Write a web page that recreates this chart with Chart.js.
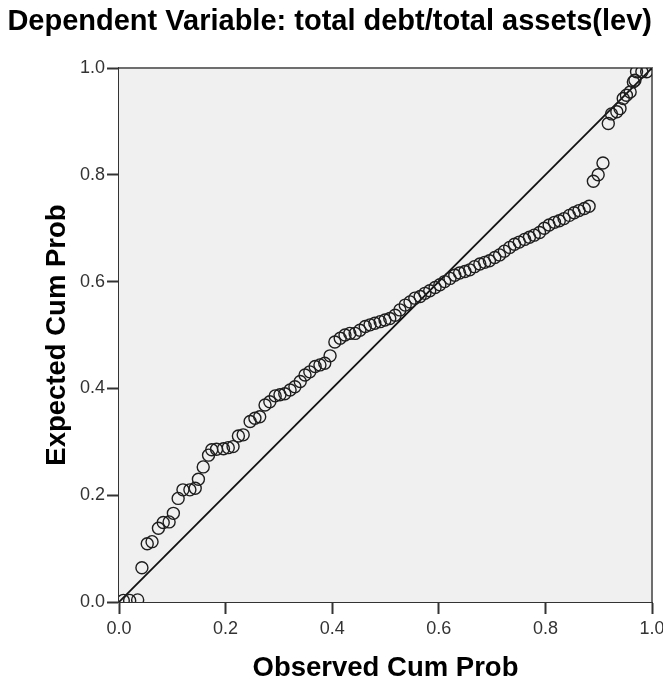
<!DOCTYPE html>
<html>
<head>
<meta charset="utf-8">
<script src="https://cdn.jsdelivr.net/npm/chart.js@4"></script>
<style>
  html, body { margin: 0; padding: 0; background: #ffffff; }
  #wrap { width: 663px; height: 683px; }
</style>
</head>
<body>
<div id="wrap"><canvas id="ppChart" width="663" height="683"></canvas></div>
<script>
const titleText = "Dependent Variable: total debt/total assets(lev)";
const xAxisLabel = "Observed Cum Prob";
const yAxisLabel = "Expected Cum Prob";

// observed cumulative probability (x)
const observedCum = [
  0.008, 0.020, 0.035, 0.043, 0.053, 0.062, 0.074, 0.083, 0.094, 0.102,
  0.111, 0.120, 0.133, 0.143, 0.149, 0.158, 0.168, 0.174, 0.183, 0.196,
  0.205, 0.214, 0.224, 0.233, 0.246, 0.255, 0.264, 0.274, 0.283, 0.293,
  0.302, 0.311, 0.321, 0.330, 0.340, 0.349, 0.358, 0.368, 0.377, 0.386,
  0.396, 0.405, 0.415, 0.424, 0.433, 0.443, 0.452, 0.462, 0.471, 0.480,
  0.490, 0.499, 0.508, 0.518, 0.527, 0.537, 0.546, 0.555, 0.565, 0.574,
  0.583, 0.593, 0.602, 0.611, 0.621, 0.630, 0.639, 0.649, 0.658, 0.667,
  0.677, 0.686, 0.695, 0.705, 0.714, 0.723, 0.733, 0.742, 0.751, 0.761,
  0.770, 0.779, 0.789, 0.798, 0.807, 0.817, 0.826, 0.835, 0.845, 0.854,
  0.863, 0.873, 0.882, 0.890, 0.899, 0.908, 0.918, 0.924, 0.934, 0.940,
  0.946, 0.952, 0.959, 0.965, 0.968, 0.971, 0.981, 0.990
];

// expected cumulative probability (y)
const expectedCum = [
  0.003, 0.003, 0.004, 0.064, 0.109, 0.113, 0.138, 0.149, 0.150, 0.166,
  0.194, 0.210, 0.210, 0.213, 0.230, 0.253, 0.275, 0.285, 0.286, 0.287,
  0.289, 0.291, 0.311, 0.313, 0.338, 0.344, 0.347, 0.369, 0.375, 0.386,
  0.388, 0.390, 0.397, 0.403, 0.413, 0.425, 0.431, 0.441, 0.444, 0.447,
  0.461, 0.487, 0.494, 0.500, 0.503, 0.503, 0.509, 0.516, 0.519, 0.522,
  0.525, 0.528, 0.531, 0.537, 0.547, 0.556, 0.562, 0.569, 0.572, 0.578,
  0.583, 0.589, 0.594, 0.600, 0.606, 0.612, 0.616, 0.619, 0.622, 0.628,
  0.633, 0.636, 0.639, 0.645, 0.650, 0.657, 0.664, 0.670, 0.674, 0.679,
  0.683, 0.687, 0.692, 0.700, 0.706, 0.711, 0.714, 0.718, 0.724, 0.729,
  0.733, 0.737, 0.741, 0.788, 0.800, 0.822, 0.896, 0.914, 0.918, 0.924,
  0.943, 0.949, 0.955, 0.974, 0.977, 0.993, 0.993, 0.993
];

// reference (diagonal) line end points
const refX = [0, 1];
const refY = [0, 1];

const tickValues = [0, 0.2, 0.4, 0.6, 0.8, 1.0];

const FONT = "'Liberation Sans', Arial, sans-serif";

// plot background and the top/right frame, SPSS style
const plotFrame = {
  id: "plotFrame",
  beforeDatasetsDraw(chart) {
    const { ctx, chartArea: a } = chart;
    ctx.save();
    ctx.fillStyle = "#f0f0f0";
    ctx.fillRect(a.left, a.top, a.right - a.left, a.bottom - a.top);
    ctx.strokeStyle = "#6e6e6e";
    ctx.lineWidth = 2;
    ctx.beginPath();
    ctx.moveTo(a.left, a.top);
    ctx.lineTo(a.right, a.top);
    ctx.lineTo(a.right, a.bottom);
    ctx.stroke();
    ctx.restore();
  },
};

const ctx = document.getElementById("ppChart").getContext("2d");
new Chart(ctx, {
  type: "scatter",
  data: {
    datasets: [
      {
        label: "Observed",
        data: observedCum.map((x, i) => ({ x, y: expectedCum[i] })),
        pointStyle: "circle",
        pointRadius: 6,
        pointBorderWidth: 1.4,
        pointBorderColor: "#1e1e1e",
        pointBackgroundColor: "rgba(0,0,0,0)",
        order: 1,
      },
      {
        type: "line",
        label: "Reference",
        data: refX.map((x, i) => ({ x, y: refY[i] })),
        borderColor: "#111111",
        borderWidth: 1.8,
        pointRadius: 0,
        fill: false,
        order: 2,
      },
    ],
  },
  options: {
    responsive: false,
    animation: false,
    layout: { padding: { top: 0, left: 0, bottom: 0, right: 11 } },
    plugins: {
      legend: { display: false },
      tooltip: { enabled: false },
      title: {
        display: true,
        align: "end",
        text: titleText,
        color: "#000000",
        font: { family: FONT, size: 29, weight: "bold", lineHeight: 1.2 },
        padding: { top: 5, bottom: 28.2 },
      },
    },
    scales: {
      x: {
        type: "linear",
        min: 0,
        max: 1,
        afterBuildTicks: (scale) => {
          scale.ticks = tickValues.map((v) => ({ value: v }));
        },
        afterFit: (scale) => {
          scale.height = 81;
          scale.paddingLeft = 0;
          scale.paddingRight = 0;
        },
        ticks: {
          color: "#333333",
          padding: 4,
          maxRotation: 0,
          font: { family: FONT, size: 18 },
          callback: (v) => v.toFixed(1),
        },
        grid: {
          drawOnChartArea: false,
          drawTicks: true,
          tickLength: 12,
          tickColor: "#333333",
          tickWidth: 2,
        },
        border: { display: true, color: "#333333", width: 2 },
        title: {
          display: true,
          text: xAxisLabel,
          color: "#000000",
          font: { family: FONT, size: 27.5, weight: "bold", lineHeight: 1 },
          padding: { top: 0, bottom: 1 },
        },
      },
      y: {
        type: "linear",
        min: 0,
        max: 1,
        afterBuildTicks: (scale) => {
          scale.ticks = tickValues.map((v) => ({ value: v }));
        },
        afterFit: (scale) => {
          scale.width = 119;
          scale.paddingTop = 0;
          scale.paddingBottom = 0;
        },
        ticks: {
          color: "#333333",
          padding: 2,
          font: { family: FONT, size: 18 },
          callback: (v) => v.toFixed(1),
        },
        grid: {
          drawOnChartArea: false,
          drawTicks: true,
          tickLength: 12,
          tickColor: "#333333",
          tickWidth: 2,
        },
        border: { display: true, color: "#333333", width: 2 },
        title: {
          display: true,
          text: yAxisLabel,
          color: "#000000",
          font: { family: FONT, size: 27.5, weight: "bold", lineHeight: 1 },
          padding: { top: 44, bottom: 0 },
        },
      },
    },
  },
  plugins: [plotFrame],
});
</script>
</body>
</html>
